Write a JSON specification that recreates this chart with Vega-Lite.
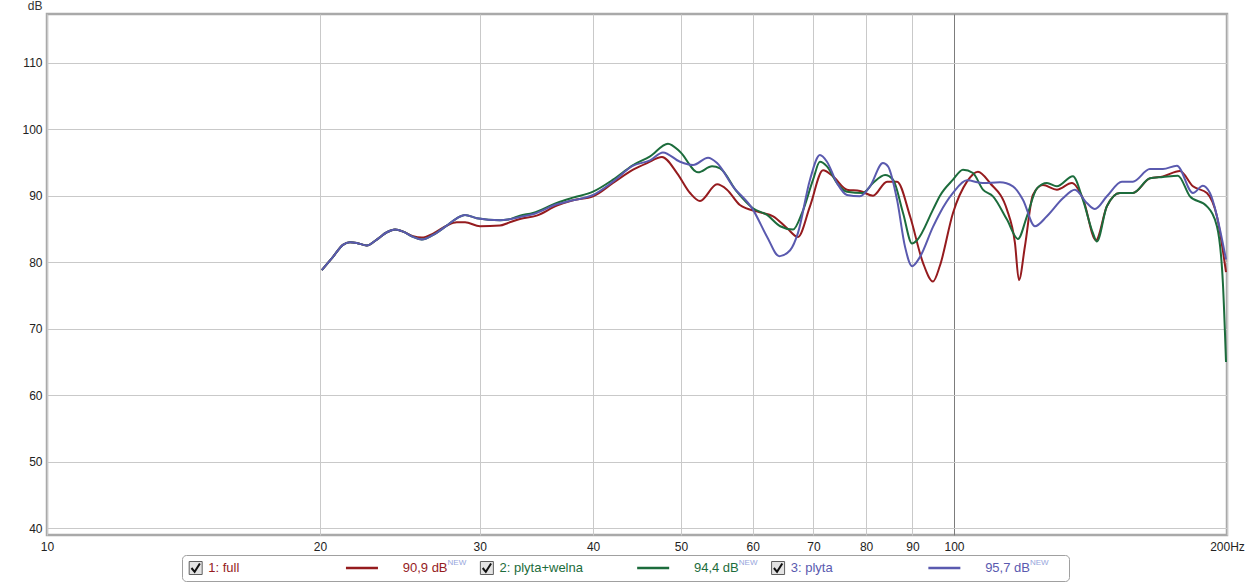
{
  "$schema": "https://vega.github.io/schema/vega-lite/v6.json",
  "background": "white",
  "padding": {"left": 20, "top": -3, "right": 0, "bottom": 0},
  "spacing": 0,
  "config": {
    "font": "Liberation Sans",
    "concat": {"spacing": 0}
  },
  "datasets": {
    "curves": [
      {"series": "1: full", "freq": 20.09, "db": 78.8},
      {"series": "1: full", "freq": 20.67, "db": 80.8},
      {"series": "1: full", "freq": 21.2, "db": 82.6},
      {"series": "1: full", "freq": 21.58, "db": 83.0},
      {"series": "1: full", "freq": 21.95, "db": 82.9},
      {"series": "1: full", "freq": 22.52, "db": 82.5},
      {"series": "1: full", "freq": 23.1, "db": 83.4},
      {"series": "1: full", "freq": 23.7, "db": 84.5},
      {"series": "1: full", "freq": 24.2, "db": 84.9},
      {"series": "1: full", "freq": 24.7, "db": 84.6},
      {"series": "1: full", "freq": 25.33, "db": 83.9},
      {"series": "1: full", "freq": 25.9, "db": 83.7},
      {"series": "1: full", "freq": 26.65, "db": 84.3},
      {"series": "1: full", "freq": 27.59, "db": 85.5},
      {"series": "1: full", "freq": 28.3, "db": 86.0},
      {"series": "1: full", "freq": 28.9, "db": 86.0},
      {"series": "1: full", "freq": 30.02, "db": 85.4},
      {"series": "1: full", "freq": 31.58, "db": 85.5},
      {"series": "1: full", "freq": 32.23, "db": 85.9},
      {"series": "1: full", "freq": 33.22, "db": 86.5},
      {"series": "1: full", "freq": 34.66, "db": 87.0},
      {"series": "1: full", "freq": 36.48, "db": 88.5},
      {"series": "1: full", "freq": 38.02, "db": 89.3},
      {"series": "1: full", "freq": 40.0, "db": 89.9},
      {"series": "1: full", "freq": 42.08, "db": 91.9},
      {"series": "1: full", "freq": 44.28, "db": 93.9},
      {"series": "1: full", "freq": 45.88, "db": 94.9},
      {"series": "1: full", "freq": 47.65, "db": 95.8},
      {"series": "1: full", "freq": 49.5, "db": 93.4},
      {"series": "1: full", "freq": 51.17, "db": 90.4},
      {"series": "1: full", "freq": 52.48, "db": 89.2},
      {"series": "1: full", "freq": 54.8, "db": 91.7},
      {"series": "1: full", "freq": 56.2, "db": 90.9},
      {"series": "1: full", "freq": 58.07, "db": 88.6},
      {"series": "1: full", "freq": 61.1, "db": 87.5},
      {"series": "1: full", "freq": 63.18, "db": 86.9},
      {"series": "1: full", "freq": 65.47, "db": 85.1},
      {"series": "1: full", "freq": 67.3, "db": 83.8},
      {"series": "1: full", "freq": 69.38, "db": 88.4},
      {"series": "1: full", "freq": 71.72, "db": 93.8},
      {"series": "1: full", "freq": 73.55, "db": 92.9},
      {"series": "1: full", "freq": 76.21, "db": 90.9},
      {"series": "1: full", "freq": 78.77, "db": 90.7},
      {"series": "1: full", "freq": 81.42, "db": 90.0},
      {"series": "1: full", "freq": 84.37, "db": 92.1},
      {"series": "1: full", "freq": 86.54, "db": 92.1},
      {"series": "1: full", "freq": 89.45, "db": 86.9},
      {"series": "1: full", "freq": 92.44, "db": 79.9},
      {"series": "1: full", "freq": 94.81, "db": 77.1},
      {"series": "1: full", "freq": 96.51, "db": 79.5},
      {"series": "1: full", "freq": 99.75, "db": 87.4},
      {"series": "1: full", "freq": 103.35, "db": 92.1},
      {"series": "1: full", "freq": 106.28, "db": 93.6},
      {"series": "1: full", "freq": 109.57, "db": 91.9},
      {"series": "1: full", "freq": 114.4, "db": 87.9},
      {"series": "1: full", "freq": 116.74, "db": 82.9},
      {"series": "1: full", "freq": 117.93, "db": 77.3},
      {"series": "1: full", "freq": 119.74, "db": 82.4},
      {"series": "1: full", "freq": 122.19, "db": 90.1},
      {"series": "1: full", "freq": 125.33, "db": 91.6},
      {"series": "1: full", "freq": 129.86, "db": 90.9},
      {"series": "1: full", "freq": 134.9, "db": 91.9},
      {"series": "1: full", "freq": 138.71, "db": 89.6},
      {"series": "1: full", "freq": 143.4, "db": 83.3},
      {"series": "1: full", "freq": 147.43, "db": 88.4},
      {"series": "1: full", "freq": 152.38, "db": 90.4},
      {"series": "1: full", "freq": 157.49, "db": 90.4},
      {"series": "1: full", "freq": 164.44, "db": 92.6},
      {"series": "1: full", "freq": 169.97, "db": 92.9},
      {"series": "1: full", "freq": 177.47, "db": 93.7},
      {"series": "1: full", "freq": 183.43, "db": 91.4},
      {"series": "1: full", "freq": 190.06, "db": 90.4},
      {"series": "1: full", "freq": 194.95, "db": 86.9},
      {"series": "1: full", "freq": 199.5, "db": 78.5},

      {"series": "2: plyta+welna", "freq": 20.09, "db": 78.8},
      {"series": "2: plyta+welna", "freq": 20.67, "db": 80.8},
      {"series": "2: plyta+welna", "freq": 21.2, "db": 82.6},
      {"series": "2: plyta+welna", "freq": 21.58, "db": 83.0},
      {"series": "2: plyta+welna", "freq": 21.95, "db": 82.9},
      {"series": "2: plyta+welna", "freq": 22.52, "db": 82.5},
      {"series": "2: plyta+welna", "freq": 23.1, "db": 83.4},
      {"series": "2: plyta+welna", "freq": 23.7, "db": 84.5},
      {"series": "2: plyta+welna", "freq": 24.2, "db": 84.9},
      {"series": "2: plyta+welna", "freq": 24.7, "db": 84.6},
      {"series": "2: plyta+welna", "freq": 25.33, "db": 83.8},
      {"series": "2: plyta+welna", "freq": 25.9, "db": 83.4},
      {"series": "2: plyta+welna", "freq": 26.65, "db": 84.1},
      {"series": "2: plyta+welna", "freq": 27.59, "db": 85.5},
      {"series": "2: plyta+welna", "freq": 28.3, "db": 86.6},
      {"series": "2: plyta+welna", "freq": 28.9, "db": 87.1},
      {"series": "2: plyta+welna", "freq": 29.78, "db": 86.6},
      {"series": "2: plyta+welna", "freq": 31.58, "db": 86.3},
      {"series": "2: plyta+welna", "freq": 32.23, "db": 86.4},
      {"series": "2: plyta+welna", "freq": 33.22, "db": 87.0},
      {"series": "2: plyta+welna", "freq": 34.34, "db": 87.4},
      {"series": "2: plyta+welna", "freq": 36.48, "db": 88.9},
      {"series": "2: plyta+welna", "freq": 38.02, "db": 89.7},
      {"series": "2: plyta+welna", "freq": 40.0, "db": 90.6},
      {"series": "2: plyta+welna", "freq": 42.08, "db": 92.4},
      {"series": "2: plyta+welna", "freq": 44.28, "db": 94.6},
      {"series": "2: plyta+welna", "freq": 46.23, "db": 95.9},
      {"series": "2: plyta+welna", "freq": 48.38, "db": 97.8},
      {"series": "2: plyta+welna", "freq": 49.88, "db": 96.6},
      {"series": "2: plyta+welna", "freq": 52.22, "db": 93.5},
      {"series": "2: plyta+welna", "freq": 54.11, "db": 94.4},
      {"series": "2: plyta+welna", "freq": 55.22, "db": 94.1},
      {"series": "2: plyta+welna", "freq": 57.63, "db": 90.6},
      {"series": "2: plyta+welna", "freq": 60.03, "db": 88.1},
      {"series": "2: plyta+welna", "freq": 62.23, "db": 87.1},
      {"series": "2: plyta+welna", "freq": 64.33, "db": 85.4},
      {"series": "2: plyta+welna", "freq": 66.47, "db": 84.9},
      {"series": "2: plyta+welna", "freq": 68.0, "db": 87.4},
      {"series": "2: plyta+welna", "freq": 69.93, "db": 92.4},
      {"series": "2: plyta+welna", "freq": 71.15, "db": 95.1},
      {"series": "2: plyta+welna", "freq": 72.44, "db": 94.4},
      {"series": "2: plyta+welna", "freq": 74.3, "db": 91.9},
      {"series": "2: plyta+welna", "freq": 76.21, "db": 90.6},
      {"series": "2: plyta+welna", "freq": 79.37, "db": 90.4},
      {"series": "2: plyta+welna", "freq": 81.42, "db": 91.9},
      {"series": "2: plyta+welna", "freq": 83.95, "db": 93.1},
      {"series": "2: plyta+welna", "freq": 85.66, "db": 92.4},
      {"series": "2: plyta+welna", "freq": 87.87, "db": 87.4},
      {"series": "2: plyta+welna", "freq": 89.9, "db": 82.8},
      {"series": "2: plyta+welna", "freq": 91.05, "db": 83.3},
      {"series": "2: plyta+welna", "freq": 94.81, "db": 87.9},
      {"series": "2: plyta+welna", "freq": 96.51, "db": 90.0},
      {"series": "2: plyta+welna", "freq": 99.75, "db": 92.4},
      {"series": "2: plyta+welna", "freq": 102.31, "db": 93.9},
      {"series": "2: plyta+welna", "freq": 104.94, "db": 93.4},
      {"series": "2: plyta+welna", "freq": 107.64, "db": 90.9},
      {"series": "2: plyta+welna", "freq": 110.41, "db": 89.9},
      {"series": "2: plyta+welna", "freq": 114.4, "db": 86.4},
      {"series": "2: plyta+welna", "freq": 117.64, "db": 83.5},
      {"series": "2: plyta+welna", "freq": 120.35, "db": 86.9},
      {"series": "2: plyta+welna", "freq": 123.44, "db": 91.1},
      {"series": "2: plyta+welna", "freq": 126.61, "db": 91.9},
      {"series": "2: plyta+welna", "freq": 129.86, "db": 91.4},
      {"series": "2: plyta+welna", "freq": 135.24, "db": 92.9},
      {"series": "2: plyta+welna", "freq": 138.71, "db": 89.4},
      {"series": "2: plyta+welna", "freq": 142.28, "db": 84.4},
      {"series": "2: plyta+welna", "freq": 143.74, "db": 83.1},
      {"series": "2: plyta+welna", "freq": 147.43, "db": 88.4},
      {"series": "2: plyta+welna", "freq": 152.38, "db": 90.4},
      {"series": "2: plyta+welna", "freq": 157.49, "db": 90.4},
      {"series": "2: plyta+welna", "freq": 164.44, "db": 92.6},
      {"series": "2: plyta+welna", "freq": 169.97, "db": 92.8},
      {"series": "2: plyta+welna", "freq": 176.57, "db": 93.0},
      {"series": "2: plyta+welna", "freq": 182.04, "db": 89.9},
      {"series": "2: plyta+welna", "freq": 190.06, "db": 88.4},
      {"series": "2: plyta+welna", "freq": 194.95, "db": 85.4},
      {"series": "2: plyta+welna", "freq": 197.94, "db": 76.8},
      {"series": "2: plyta+welna", "freq": 199.5, "db": 65.0},

      {"series": "3: plyta", "freq": 20.09, "db": 78.8},
      {"series": "3: plyta", "freq": 20.67, "db": 80.8},
      {"series": "3: plyta", "freq": 21.2, "db": 82.6},
      {"series": "3: plyta", "freq": 21.58, "db": 83.0},
      {"series": "3: plyta", "freq": 21.95, "db": 82.9},
      {"series": "3: plyta", "freq": 22.52, "db": 82.5},
      {"series": "3: plyta", "freq": 23.1, "db": 83.4},
      {"series": "3: plyta", "freq": 23.7, "db": 84.5},
      {"series": "3: plyta", "freq": 24.2, "db": 84.9},
      {"series": "3: plyta", "freq": 24.7, "db": 84.6},
      {"series": "3: plyta", "freq": 25.33, "db": 83.8},
      {"series": "3: plyta", "freq": 25.9, "db": 83.4},
      {"series": "3: plyta", "freq": 26.65, "db": 84.1},
      {"series": "3: plyta", "freq": 27.59, "db": 85.5},
      {"series": "3: plyta", "freq": 28.3, "db": 86.6},
      {"series": "3: plyta", "freq": 28.9, "db": 87.1},
      {"series": "3: plyta", "freq": 29.78, "db": 86.6},
      {"series": "3: plyta", "freq": 31.58, "db": 86.3},
      {"series": "3: plyta", "freq": 32.23, "db": 86.4},
      {"series": "3: plyta", "freq": 33.22, "db": 86.8},
      {"series": "3: plyta", "freq": 34.34, "db": 87.2},
      {"series": "3: plyta", "freq": 36.48, "db": 88.7},
      {"series": "3: plyta", "freq": 38.02, "db": 89.3},
      {"series": "3: plyta", "freq": 40.0, "db": 90.1},
      {"series": "3: plyta", "freq": 42.08, "db": 92.1},
      {"series": "3: plyta", "freq": 44.28, "db": 94.5},
      {"series": "3: plyta", "freq": 46.23, "db": 95.3},
      {"series": "3: plyta", "freq": 47.77, "db": 96.5},
      {"series": "3: plyta", "freq": 49.88, "db": 95.1},
      {"series": "3: plyta", "freq": 51.56, "db": 94.6},
      {"series": "3: plyta", "freq": 53.56, "db": 95.7},
      {"series": "3: plyta", "freq": 54.8, "db": 94.9},
      {"series": "3: plyta", "freq": 57.05, "db": 91.4},
      {"series": "3: plyta", "freq": 60.03, "db": 87.9},
      {"series": "3: plyta", "freq": 62.23, "db": 83.8},
      {"series": "3: plyta", "freq": 64.16, "db": 80.9},
      {"series": "3: plyta", "freq": 65.97, "db": 81.8},
      {"series": "3: plyta", "freq": 67.3, "db": 84.4},
      {"series": "3: plyta", "freq": 69.38, "db": 92.4},
      {"series": "3: plyta", "freq": 71.15, "db": 96.1},
      {"series": "3: plyta", "freq": 72.44, "db": 95.1},
      {"series": "3: plyta", "freq": 74.3, "db": 91.9},
      {"series": "3: plyta", "freq": 76.21, "db": 90.1},
      {"series": "3: plyta", "freq": 78.77, "db": 89.9},
      {"series": "3: plyta", "freq": 80.8, "db": 91.4},
      {"series": "3: plyta", "freq": 83.5, "db": 94.9},
      {"series": "3: plyta", "freq": 84.58, "db": 94.4},
      {"series": "3: plyta", "freq": 86.54, "db": 89.4},
      {"series": "3: plyta", "freq": 88.32, "db": 82.3},
      {"series": "3: plyta", "freq": 89.9, "db": 79.4},
      {"series": "3: plyta", "freq": 91.74, "db": 80.8},
      {"series": "3: plyta", "freq": 94.81, "db": 85.3},
      {"series": "3: plyta", "freq": 96.51, "db": 87.4},
      {"series": "3: plyta", "freq": 99.75, "db": 90.4},
      {"series": "3: plyta", "freq": 103.35, "db": 92.3},
      {"series": "3: plyta", "freq": 107.64, "db": 91.9},
      {"series": "3: plyta", "freq": 112.38, "db": 92.0},
      {"series": "3: plyta", "freq": 116.15, "db": 91.4},
      {"series": "3: plyta", "freq": 119.13, "db": 89.4},
      {"series": "3: plyta", "freq": 122.82, "db": 85.4},
      {"series": "3: plyta", "freq": 126.61, "db": 86.9},
      {"series": "3: plyta", "freq": 131.86, "db": 89.6},
      {"series": "3: plyta", "freq": 135.93, "db": 90.9},
      {"series": "3: plyta", "freq": 140.12, "db": 88.9},
      {"series": "3: plyta", "freq": 143.01, "db": 88.0},
      {"series": "3: plyta", "freq": 147.43, "db": 89.9},
      {"series": "3: plyta", "freq": 153.16, "db": 92.1},
      {"series": "3: plyta", "freq": 157.49, "db": 92.1},
      {"series": "3: plyta", "freq": 164.44, "db": 94.0},
      {"series": "3: plyta", "freq": 169.97, "db": 94.0},
      {"series": "3: plyta", "freq": 176.12, "db": 94.5},
      {"series": "3: plyta", "freq": 183.43, "db": 90.4},
      {"series": "3: plyta", "freq": 188.14, "db": 91.5},
      {"series": "3: plyta", "freq": 191.52, "db": 90.4},
      {"series": "3: plyta", "freq": 199.5, "db": 80.4}
    ],
    "legendItems": [
      {"series": "1: full", "level": "90,9 dB"},
      {"series": "2: plyta+welna", "level": "94,4 dB"},
      {"series": "3: plyta", "level": "95,7 dB"}
    ]
  },
  "vconcat": [
    {
      "width": 1180,
      "height": 521,
      "view": {"stroke": "#a9a9a9", "strokeWidth": 2.5, "fill": "white"},
      "data": {"name": "curves"},
      "mark": {"type": "line", "interpolate": "monotone", "strokeWidth": 2, "clip": true},
      "encoding": {
        "x": {
          "field": "freq", "type": "quantitative",
          "scale": {"type": "log", "domain": [10, 200], "nice": false},
          "axis": {
            "values": [10, 20, 30, 40, 50, 60, 70, 80, 90, 100, 200],
            "title": null,
            "labelExpr": "datum.value == 200 ? '200Hz' : '' + datum.value",
            "labelFontSize": 12, "labelColor": "#222222", "labelPadding": 6,
            "labelOverlap": false, "labelFlush": false, "labelBound": false,
            "ticks": false, "tickSize": 0, "domain": false, "grid": true,
            "gridColor": {"condition": {"test": "datum.value == 100", "value": "#7c7c7c"}, "value": "#c9c9c9"},
            "gridWidth": 1
          }
        },
        "y": {
          "field": "db", "type": "quantitative",
          "scale": {"domain": [39, 117.3], "nice": false, "zero": false},
          "axis": {
            "values": [40, 50, 60, 70, 80, 90, 100, 110],
            "title": "dB", "titleAngle": 0, "titleAlign": "right", "titleBaseline": "alphabetic",
            "titleX": -5, "titleY": -5, "titleFontSize": 12, "titleFontWeight": "normal", "titleColor": "#333333",
            "labelFontSize": 12, "labelColor": "#222222", "labelPadding": 5,
            "ticks": false, "tickSize": 0, "domain": false, "grid": true, "gridColor": "#c9c9c9",
            "minExtent": 25, "maxExtent": 25
          }
        },
        "color": {
          "field": "series", "type": "nominal",
          "scale": {"domain": ["1: full", "2: plyta+welna", "3: plyta"], "range": ["#951b1e", "#1c6c3c", "#5a5aaf"]},
          "legend": null
        }
      }
    },
    {
      "hconcat": [
        {
          "width": 134,
          "height": 26,
          "view": {"stroke": null, "fill": null},
          "data": {"values": []},
          "mark": {"type": "point", "opacity": 0}
        },
        {
          "width": 887,
          "height": 26,
          "view": {"stroke": "#a0a0a0", "strokeWidth": 1, "cornerRadius": 4, "fill": "white"},
          "data": {"name": "legendItems"},
          "layer": [
            {
              "mark": {"type": "point", "shape": "square", "size": 169, "filled": true, "fill": "#e3e3e3", "stroke": "#5e5e5e", "strokeWidth": 1, "opacity": 1},
              "encoding": {
                "x": {"field": "series", "type": "nominal", "bandPosition": 0.024,
                      "scale": {"type": "band", "domain": ["1: full", "2: plyta+welna", "3: plyta"], "paddingInner": 0, "paddingOuter": 0.023},
                      "axis": null}
              }
            },
            {
              "mark": {"type": "point", "shape": "M-0.6,0L-0.15,0.55L0.6,-0.65", "size": 196, "filled": false, "stroke": "#111111", "strokeWidth": 2, "opacity": 1},
              "encoding": {
                "x": {"field": "series", "type": "nominal", "bandPosition": 0.024,
                      "scale": {"type": "band", "domain": ["1: full", "2: plyta+welna", "3: plyta"], "paddingInner": 0, "paddingOuter": 0.023},
                      "axis": null}
              }
            },
            {
              "mark": {"type": "text", "align": "left", "baseline": "middle", "fontSize": 13},
              "encoding": {
                "x": {"field": "series", "type": "nominal", "bandPosition": 0.0673,
                      "scale": {"type": "band", "domain": ["1: full", "2: plyta+welna", "3: plyta"], "paddingInner": 0, "paddingOuter": 0.023},
                      "axis": null},
                "text": {"field": "series"},
                "color": {"field": "series", "type": "nominal",
                          "scale": {"domain": ["1: full", "2: plyta+welna", "3: plyta"], "range": ["#951b1e", "#1c6c3c", "#5a5aaf"]},
                          "legend": null}
              }
            },
            {
              "mark": {"type": "point", "shape": "stroke", "size": 1024, "filled": false, "strokeWidth": 2.5, "opacity": 1},
              "encoding": {
                "x": {"field": "series", "type": "nominal", "bandPosition": 0.595,
                      "scale": {"type": "band", "domain": ["1: full", "2: plyta+welna", "3: plyta"], "paddingInner": 0, "paddingOuter": 0.023},
                      "axis": null},
                "color": {"field": "series", "type": "nominal",
                          "scale": {"domain": ["1: full", "2: plyta+welna", "3: plyta"], "range": ["#951b1e", "#1c6c3c", "#5a5aaf"]},
                          "legend": null}
              }
            },
            {
              "mark": {"type": "text", "align": "left", "baseline": "middle", "fontSize": 13},
              "encoding": {
                "x": {"field": "series", "type": "nominal", "bandPosition": 0.735,
                      "scale": {"type": "band", "domain": ["1: full", "2: plyta+welna", "3: plyta"], "paddingInner": 0, "paddingOuter": 0.023},
                      "axis": null},
                "text": {"field": "level"},
                "color": {"field": "series", "type": "nominal",
                          "scale": {"domain": ["1: full", "2: plyta+welna", "3: plyta"], "range": ["#951b1e", "#1c6c3c", "#5a5aaf"]},
                          "legend": null}
              }
            },
            {
              "mark": {"type": "text", "align": "left", "baseline": "middle", "fontSize": 8, "dy": -5, "color": "#96a5dc"},
              "encoding": {
                "x": {"field": "series", "type": "nominal", "bandPosition": 0.889,
                      "scale": {"type": "band", "domain": ["1: full", "2: plyta+welna", "3: plyta"], "paddingInner": 0, "paddingOuter": 0.023},
                      "axis": null},
                "text": {"value": "NEW"}
              }
            }
          ]
        }
      ]
    }
  ]
}
